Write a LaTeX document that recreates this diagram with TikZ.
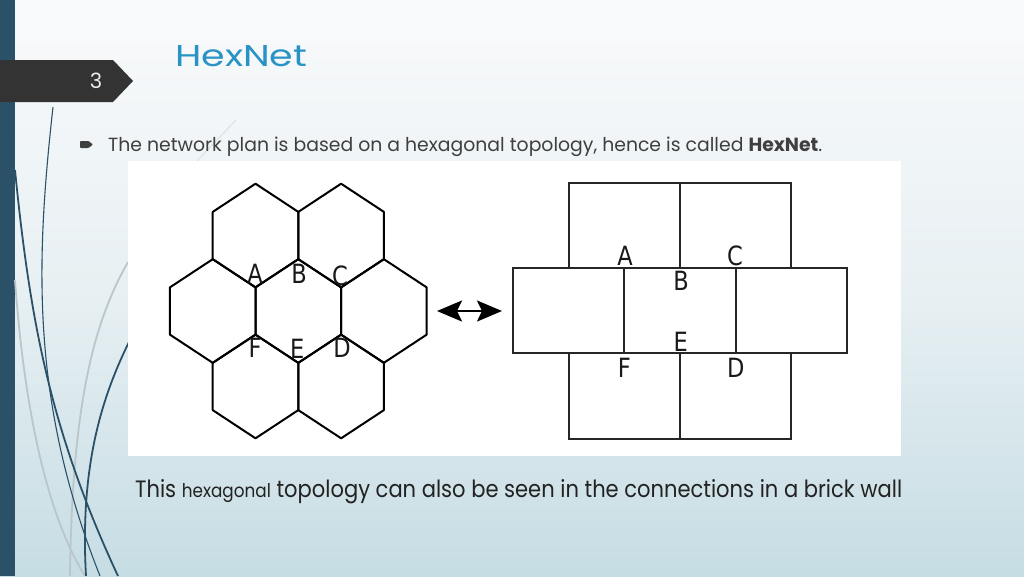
\documentclass[tikz,border=0pt]{standalone}
\usepackage{fontspec}
\setmainfont{Poppins}
\newfontfamily\lblfont[FakeStretch=0.85]{DejaVu Sans}
\usetikzlibrary{arrows.meta}
\definecolor{barblue}{HTML}{2B5169}
\definecolor{tabgray}{HTML}{333333}
\definecolor{ttlblue}{HTML}{2A93C5}
\definecolor{txtgray}{HTML}{3F3F3F}
\definecolor{capblack}{HTML}{222222}
\definecolor{bgtop}{HTML}{F9FAFB}
\definecolor{bgmid}{HTML}{E8F0F3}
\definecolor{bgbot}{HTML}{C6DDE4}
\definecolor{wispgray}{HTML}{B9C6CB}
\definecolor{wispfaint}{HTML}{DCE2E5}
\begin{document}
\begin{tikzpicture}[x=1pt,y=-1pt,
  hexline/.style={line width=2pt, black, line join=round},
  brickline/.style={line width=1.8pt, black!85},
  lbl/.style={font=\lblfont\fontsize{26.5}{26.5}\selectfont, inner sep=0pt, anchor=base, text=black!90},
  wispdark/.style={barblue, line width=1.8pt},
  wispthin/.style={barblue, line width=1.1pt},
  wisplight/.style={wispgray, line width=1.8pt},
  txtbox/.style={anchor=base west, inner sep=0pt},
  dblarrow/.style={line width=2.2pt, >={Stealth[length=25pt,width=21pt,inset=5pt]}, <->}]
\useasboundingbox (0,0) rectangle (1024,576);
% background
\shade[top color=bgtop, bottom color=bgbot, middle color=bgmid] (0,0) rectangle (1024,576);
\fill[barblue] (0,0) rectangle (15,576);
% wisps
\draw[wisplight] (15,280) .. controls (25,420) and (50,520) .. (85,576);
\draw[wisplight] (128,262) .. controls (95,320) and (72,400) .. (70,576);
\draw[wispfaint, line width=1pt] (236,120) -- (196,162);
\draw[wispthin] (53,107) .. controls (36,260) and (30,400) .. (100,576);
\draw[wispdark] (15,170) .. controls (30,320) and (50,430) .. (118,576);
\draw[wispdark] (130,340) .. controls (100,400) and (80,470) .. (86,576);
% picture panel
\fill[white] (128,161) rectangle (901,456);
% page tab
\fill[tabgray] (0,60) -- (113,60) -- (133,81) -- (113,102) -- (0,102) -- cycle;
\node[text=white!92!black, font=\fontsize{21}{21}\selectfont, inner sep=0pt] (pagenum) at (96,81) {3};
% title
\node[txtbox, text=ttlblue] (title) at (175,66) {\resizebox{132pt}{21pt}{HexNet}};
% bullet
\fill[txtgray, rounded corners=0.8pt] (80,141) -- (88.5,141) -- (93,144.5) -- (88.5,148) -- (80,148) -- cycle;
\node[txtbox, text=txtgray] (bullet) at (108,151.5) {\resizebox{714pt}{14.5pt}{The network plan is based on a hexagonal topology, hence is called \textbf{HexNet}.}};
% hexagons
\def\hexW{42.8}
\def\hexH{51.8}
\def\hexS{23.6}
\foreach \cx/\cy in {298.3/311, 212.7/311, 383.9/311, 255.5/235.5, 341.1/235.5, 255.5/386.5, 341.1/386.5}{
  \draw[hexline] ({\cx},{\cy-\hexH}) -- ({\cx+\hexW},{\cy-\hexS}) -- ({\cx+\hexW},{\cy+\hexS})
    -- ({\cx},{\cy+\hexH}) -- ({\cx-\hexW},{\cy+\hexS}) -- ({\cx-\hexW},{\cy-\hexS}) -- cycle;
}
\node[lbl] (hA) at (255,283) {A};
\node[lbl] (hB) at (299,283) {B};
\node[lbl] (hC) at (340,285) {C};
\node[lbl] (hF) at (255,357) {F};
\node[lbl] (hE) at (297.3,358) {E};
\node[lbl] (hD) at (342,357) {D};
% double arrow
\coordinate (arrL) at (437,311);
\coordinate (arrR) at (502,311);
\draw[dblarrow] (arrL) -- (arrR);
% brick wall
\draw[brickline] (569,182.7) rectangle (791,267.7);
\draw[brickline] (680,182.7) -- (680,267.7);
\draw[brickline] (513.3,267.7) rectangle (846.7,353);
\draw[brickline] (624.3,267.7) -- (624.3,353);
\draw[brickline] (735.7,267.7) -- (735.7,353);
\draw[brickline] (569,353) rectangle (791,438.7);
\draw[brickline] (680,353) -- (680,438.7);
\node[lbl] (bA) at (625,265) {A};
\node[lbl] (bC) at (735,265) {C};
\node[lbl] (bB) at (681,290) {B};
\node[lbl] (bE) at (680.7,351) {E};
\node[lbl] (bF) at (624.3,377) {F};
\node[lbl] (bD) at (735.7,377) {D};
% caption
\node[txtbox, text=capblack] (caption) at (135,497) {\resizebox{767pt}{18pt}{\fontsize{20}{24}\selectfont This {\fontsize{16}{20}\selectfont hexagonal} topology can also be seen in the connections in a brick wall}};
\end{tikzpicture}
\end{document}
